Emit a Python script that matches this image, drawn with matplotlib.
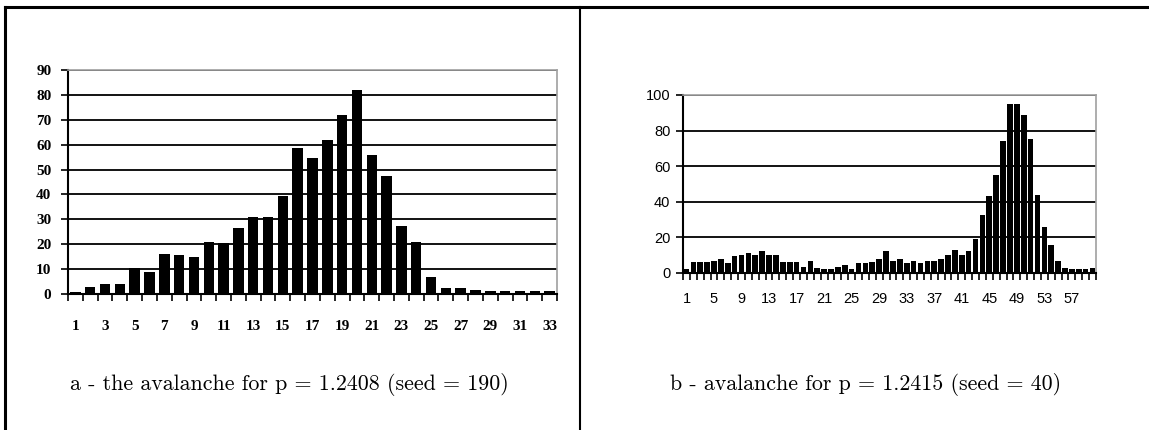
import matplotlib
matplotlib.use('Agg')
import matplotlib.pyplot as plt
from matplotlib.lines import Line2D
from matplotlib.ticker import MultipleLocator

# avalanche sizes
vals_a = [1, 3, 4, 4, 10.5, 9, 16, 15.5, 15, 21, 20.5, 26.5, 31, 31, 39.5,
          58.5, 54.5, 62, 72, 82, 56, 47.5, 27.5, 21, 7, 2.5, 2.5, 1.8, 1.2,
          1.2, 1.2, 1.2, 1.2]
vals_b = [2, 6, 6, 6, 7, 8, 5.5, 9.5, 10, 11, 10, 12.5, 10, 10, 6, 6, 6, 3.5,
          6.5, 3, 2, 2.5, 3.5, 4.5, 2, 5.5, 5.5, 6, 8, 12.5, 6.5, 8, 5.5, 7,
          5.5, 7, 6.5, 8, 10, 12.8, 10, 12.4, 19, 32.5, 43, 55, 74, 95, 95, 89,
          75, 44, 26, 16, 7, 3, 2, 2, 2.5, 3]
caption_a = 'a - the avalanche for p = 1.2408 (seed = 190)'
caption_b = 'b - avalanche for p = 1.2415 (seed = 40)'

W, H = 1149, 430
fig = plt.figure(figsize=(W / 100, H / 100), dpi=100)


def px(x0, y0, x1, y1):
    return [x0 / W, 1 - y1 / H, (x1 - x0) / W, (y1 - y0) / H]


def style(ax, n, ymax, ystep, xstep, font, fsize, xpad, ypad, weight):
    ax.set_xlim(0.5, n + 0.5)
    ax.set_ylim(0, ymax)
    ax.yaxis.set_major_locator(MultipleLocator(ystep))
    ax.set_xticks(range(1, n + 1, xstep))
    ax.set_xticks([i + 0.5 for i in range(0, n + 1)], minor=True)
    ax.tick_params(axis='x', which='major', length=0, pad=xpad)
    ax.tick_params(axis='x', which='minor', length=5, width=1.2, color='black')
    ax.tick_params(axis='y', length=5, width=1.2, pad=ypad)
    for lab in ax.get_xticklabels() + ax.get_yticklabels():
        lab.set_fontfamily(font)
        lab.set_fontsize(fsize)
        lab.set_fontweight(weight)
    ax.grid(axis='y', color='black', linewidth=1.3)
    ax.set_axisbelow(True)
    for s in ['top', 'right']:
        ax.spines[s].set_color('#a0a0a0')
        ax.spines[s].set_linewidth(1.2)
    for s in ['left', 'bottom']:
        ax.spines[s].set_color('black')
        ax.spines[s].set_linewidth(1.5)


ax1 = fig.add_axes(px(68, 70, 557, 294))
ax1.bar(range(1, len(vals_a) + 1), vals_a, width=0.7, color='black')
style(ax1, len(vals_a), 90, 10, 2, 'Liberation Serif', 11, 19, 7, 'bold')

ax2 = fig.add_axes(px(683, 95, 1096, 273))
ax2.bar(range(1, len(vals_b) + 1), vals_b, width=0.82, color='black')
style(ax2, len(vals_b), 100, 20, 4, 'Liberation Sans', 10.5, 14, 4, 'normal')

fig.text(289 / W, 1 - 385 / H, caption_a, ha='center', va='center',
         fontfamily='cmr10', fontsize=15.8)
fig.text(866 / W, 1 - 385 / H, caption_b, ha='center', va='center',
         fontfamily='cmr10', fontsize=15.8)

# table frame
fig.add_artist(Line2D([5 / W, 1], [1 - 7 / H, 1 - 7 / H], color='black', linewidth=2.2))
fig.add_artist(Line2D([5 / W, 5 / W], [0, 1 - 7 / H], color='black', linewidth=2.2))
fig.add_artist(Line2D([580 / W, 580 / W], [0, 1 - 7 / H], color='black', linewidth=1.5))

fig.savefig('out.png', dpi=100)
